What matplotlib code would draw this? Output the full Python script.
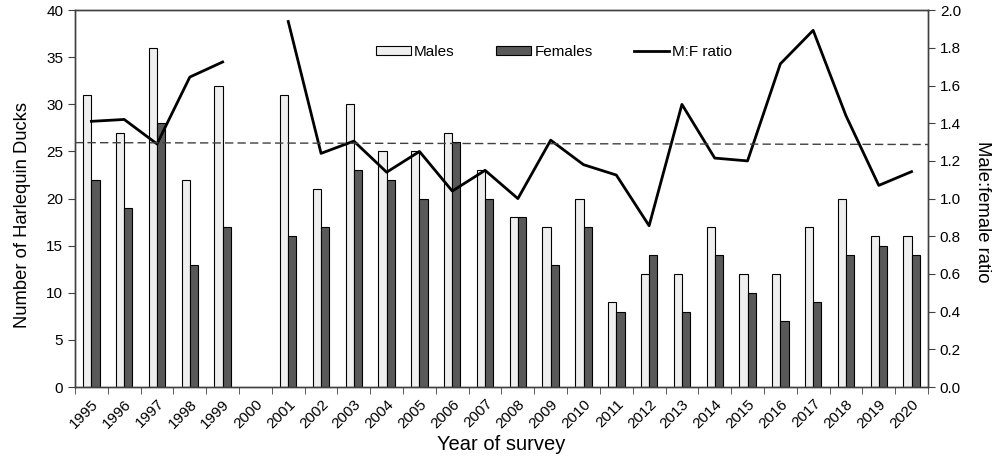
import numpy as np
import matplotlib
matplotlib.use('Agg')
import matplotlib.pyplot as plt
from matplotlib.ticker import FixedLocator, MultipleLocator, FormatStrFormatter

plt.rcParams['font.family'] = ['Liberation Sans', 'DejaVu Sans']

years = [str(y) for y in range(1995, 2021)]
males = [31, 27, 36, 22, 32, np.nan, 31, 21, 30, 25, 25, 27, 23, 18, 17, 20,
         9, 12, 12, 17, 12, 12, 17, 20, 16, 16]
females = [22, 19, 28, 13, 17, np.nan, 16, 17, 23, 22, 20, 26, 20, 18, 13, 17,
           8, 14, 8, 14, 10, 7, 9, 14, 15, 14]
ratio = [1.41, 1.42, 1.29, 1.645, 1.725, np.nan, 1.94, 1.24, 1.305, 1.14, 1.25,
         1.04, 1.15, 1.0, 1.31, 1.18, 1.125, 0.856, 1.5, 1.215, 1.2, 1.715,
         1.893, 1.44, 1.07, 1.143]
mean_ratio_ends = [1.297, 1.287]

x = np.arange(len(years))
w = 0.25

fig = plt.figure(figsize=(9.96, 4.62), dpi=100)
ax = fig.add_axes([0.0753, 0.1623, 0.8564, 0.8157])
ax2 = ax.twinx()

b1 = ax.bar(x - w / 2, males, w, color='#efefef', edgecolor='black', linewidth=0.8, label='Males')
b2 = ax.bar(x + w / 2, females, w, color='#595959', edgecolor='black', linewidth=0.8, label='Females')

ln, = ax2.plot(x, ratio, color='black', linewidth=2, label='M:F ratio')
ax2.plot([-0.5, len(years) - 0.5], mean_ratio_ends, color='#404040',
         linestyle=(0, (6, 3)), linewidth=1)

ax.set_xlim(-0.5, len(years) - 0.5)
ax.set_ylim(0, 40)
ax2.set_ylim(0, 2.0)
ax.yaxis.set_major_locator(MultipleLocator(5))
ax2.yaxis.set_major_locator(MultipleLocator(0.2))
ax2.yaxis.set_major_formatter(FormatStrFormatter('%.1f'))

ax.set_xticks(x)
ax.set_xticklabels(years, rotation=45, ha='right', rotation_mode='anchor')
ax.xaxis.set_minor_locator(FixedLocator(np.arange(-0.5, len(years), 1)))
ax.tick_params(axis='x', which='major', length=0, labelsize=11, pad=7)
ax.tick_params(axis='x', which='minor', length=5, direction='out', color='#404040')
ax.tick_params(axis='y', labelsize=11, direction='out', length=5, color='#404040')
ax2.tick_params(axis='y', labelsize=11, direction='out', length=5, color='#404040')
for a in (ax, ax2):
    for s in a.spines.values():
        s.set_color('#404040')
        s.set_linewidth(1)

# y-axis titles sit a bit below the axes centre in the original
fig.text(23 / 996, 1 - 215 / 462, 'Number of Harlequin Ducks', fontsize=13.2,
         rotation=90, ha='center', va='center')
fig.text(982 / 996, 1 - 212 / 462, 'Male:female ratio', fontsize=13.3,
         rotation=270, ha='center', va='center')
ax.set_xlabel('Year of survey', fontsize=14.5, labelpad=3)

leg = ax.legend([b1, b2, ln], ['Males', 'Females', 'M:F ratio'], ncol=3,
                loc='center', bbox_to_anchor=(0.5616, 0.889), frameon=False,
                fontsize=11, handlelength=2.3, handleheight=0.52,
                columnspacing=2.7, handletextpad=0.2)

plt.savefig('out.png', dpi=100)
